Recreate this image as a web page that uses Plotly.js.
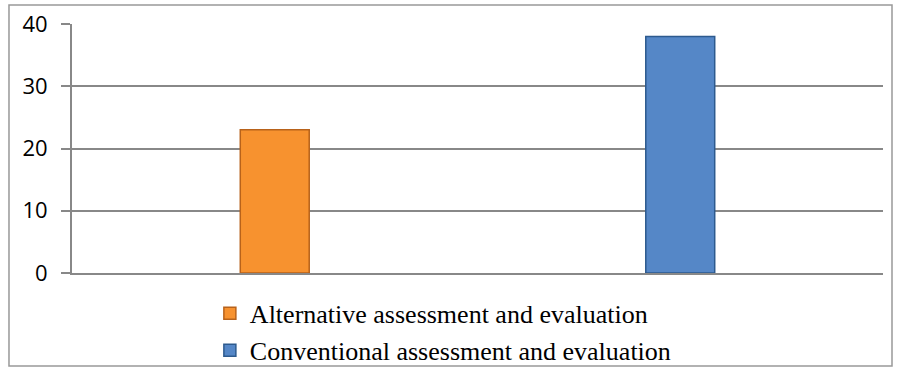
<!DOCTYPE html>
<html>
<head>
<meta charset="utf-8">
<script src="https://cdn.plot.ly/plotly-3.0.1.min.js"></script>
<style>
  html, body { margin: 0; padding: 0; background: #fff; }
  #chart { width: 901px; height: 370px; }
</style>
</head>
<body>
<div id="chart"></div>
<script>
// Series names (shown in the legend) and their values
const seriesNames = ["Alternative assessment and evaluation", "Conventional assessment and evaluation"];
const categories = ["alt", "conv"];
const values = [23, 38];
const colors = ["#F7922F", "#5587C7"];
const edgeColors = ["#B8621A", "#2D5A8E"];

// Y axis ticks
const yTicks = [0, 10, 20, 30, 40];

const traces = seriesNames.map((name, i) => ({
  type: "bar",
  name: name,
  x: [categories[i]],
  y: [values[i]],
  width: 0.17,
  marker: { color: colors[i], line: { color: edgeColors[i], width: 1.5 } },
  hoverinfo: "none"
}));

const layout = {
  width: 901,
  height: 370,
  margin: { l: 72, r: 18, t: 24, b: 97, autoexpand: false },
  paper_bgcolor: "#fff",
  plot_bgcolor: "#fff",
  barmode: "overlay",
  showlegend: true,
  xaxis: {
    type: "category",
    categoryarray: categories,
    range: [-0.5, 1.5],
    showticklabels: false,
    ticks: "",
    showgrid: false,
    showline: true,
    linecolor: "#888",
    linewidth: 2,
    zeroline: false,
    fixedrange: true
  },
  yaxis: {
    range: [0, 40],
    tickvals: yTicks,
    ticktext: yTicks.map(String),
    ticks: "outside",
    ticklen: 9,
    tickcolor: "#888",
    tickwidth: 2,
    ticklabelstandoff: 9,
    showline: true,
    linecolor: "#888",
    linewidth: 2,
    showgrid: true,
    gridcolor: "#888",
    gridwidth: 2,
    zeroline: false,
    tickfont: { family: "'Open Sans', sans-serif", size: 22, color: "#000" },
    fixedrange: true
  },
  legend: {
    orientation: "v",
    x: 0.170,
    xanchor: "left",
    y: -0.068,
    yanchor: "top",
    font: { family: "'Liberation Serif', serif", size: 26, color: "#000" },
    bgcolor: "rgba(0,0,0,0)",
    itemwidth: 30,
    traceorder: "normal"
  },
  shapes: [{
    type: "rect",
    xref: "paper", yref: "paper",
    x0: -0.0777, x1: 1.0111, y0: -0.3735, y1: 1.0763,
    line: { color: "#999", width: 1.5 },
    fillcolor: "rgba(0,0,0,0)",
    layer: "below"
  }]
};

Plotly.newPlot("chart", traces, layout, { displayModeBar: false, staticPlot: true });
</script>
</body>
</html>
